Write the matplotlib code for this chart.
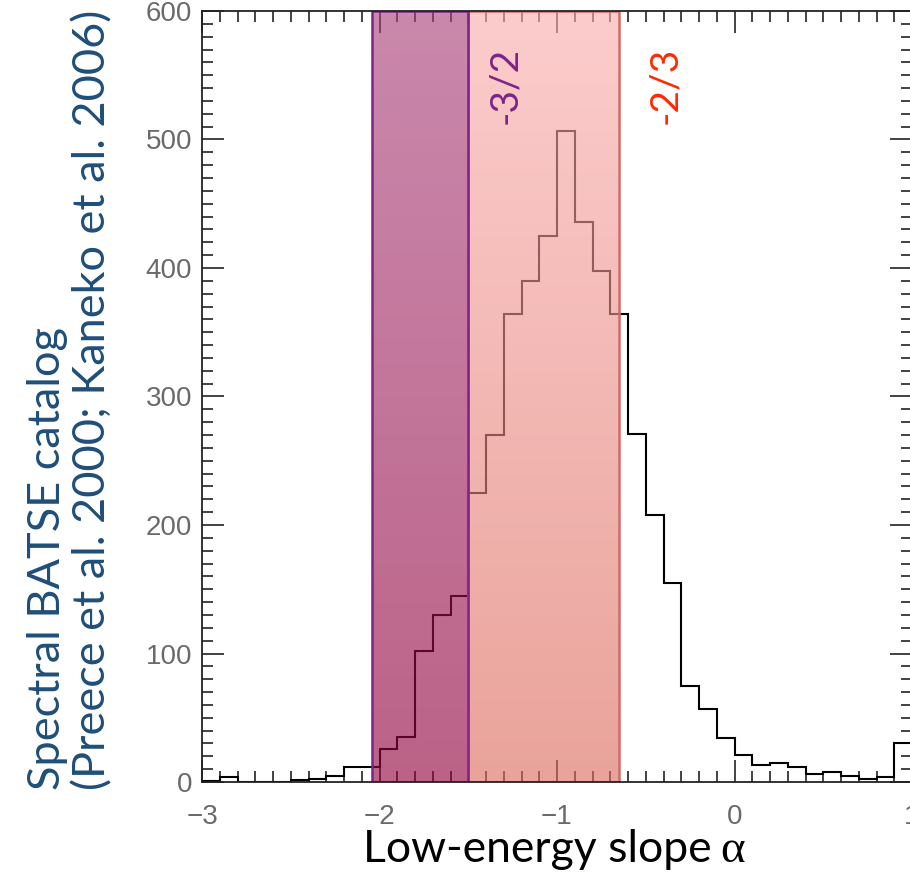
import numpy as np
import matplotlib
matplotlib.use("Agg")
import matplotlib.pyplot as plt
from matplotlib.ticker import MultipleLocator

# histogram of low-energy slopes (bin width 0.1, from -3 to 1)
bin_edges = np.round(np.arange(-3.0, 1.05, 0.1), 2)
counts = [1, 4, 0, 0, 0, 1.5, 2.5, 4.5, 12, 12,
          26, 35, 102, 130, 145, 225, 270, 364, 390, 425,
          507, 436, 398, 364, 271, 208, 155, 75, 57, 34,
          21, 13, 15, 12, 6, 8, 5, 2.5, 4, 30]

# shaded ranges: synchrotron limits
band_purple = (-2.04, -1.5)
band_pink = (-1.5, -0.65)
label_purple = "-3/2"
label_red = "-2/3"

fig = plt.figure(figsize=(9.1, 8.72), dpi=100)
ax = fig.add_axes([202 / 910, 1 - 782 / 872, 710 / 910, 771 / 872])

ax.stairs(counts, bin_edges, color="black", lw=1.5, zorder=2)


def gradient_band(x0, x1, top_rgb, bot_rgb, alpha, edge):
    n = 64
    t = np.linspace(0, 1, n)[:, None]
    rgb = (1 - t) * np.array(top_rgb) + t * np.array(bot_rgb)
    img = np.concatenate([rgb / 255.0, np.full((n, 1), alpha)], axis=1)[:, None, :]
    ax.imshow(img, extent=(x0, x1, 0, 600), origin="upper", aspect="auto",
              interpolation="bilinear", zorder=3)
    ax.add_patch(plt.Rectangle((x0, 0), x1 - x0, 600, fill=False,
                               edgecolor=edge, lw=1.8, zorder=4))


gradient_band(*band_pink, (250, 173, 173), (221, 107, 94), 0.62, "#D26A66")
gradient_band(*band_purple, (169, 63, 121), (147, 2, 63), 0.62, "#7E2389")

ax.set_xlim(-3, 1)
ax.set_ylim(0, 600)

ax.xaxis.set_major_locator(MultipleLocator(1))
ax.xaxis.set_minor_locator(MultipleLocator(0.1))
ax.yaxis.set_major_locator(MultipleLocator(100))
ax.yaxis.set_minor_locator(MultipleLocator(10))
ax.tick_params(which="both", direction="in", top=True, right=True,
               color="#222222", width=1.2, labelcolor="#6a6a6a",
               labelsize=20)
ax.tick_params(which="major", length=16)
ax.tick_params(which="minor", length=8)
ax.tick_params(axis="x", pad=16)
ax.tick_params(axis="y", pad=7)
for lab in ax.get_xticklabels() + ax.get_yticklabels():
    lab.set_family("Liberation Sans")
for sp in ax.spines.values():
    sp.set_linewidth(1.3)
    sp.set_color("#222222")
    sp.set_zorder(5)

ax.text(-1.293, 542, label_purple, rotation=90, ha="center", va="center",
        color="#7E2389", fontsize=28, family="Lato", zorder=6)
ax.text(-0.39, 542, label_red, rotation=90, ha="center", va="center",
        color="#FF2A00", fontsize=28, family="Lato", zorder=6)

fig.text(70 / 910, 1 - 790 / 872,
         "Spectral BATSE catalog\n(Preece et al. 2000; Kaneko et al. 2006)",
         rotation=90, ha="center", va="bottom", multialignment="left",
         color="#1F4E79", fontsize=32.5, family="Lato", linespacing=1.12)

fig.text(712 / 910, 1 - 862 / 872, "Low-energy slope", ha="right",
         va="baseline", fontsize=32, family="Lato", color="black")
fig.text(720 / 910, 1 - 862 / 872, "α", ha="left", va="baseline",
         fontsize=34, family="Liberation Serif", color="black")

fig.savefig("out.png", dpi=100)
